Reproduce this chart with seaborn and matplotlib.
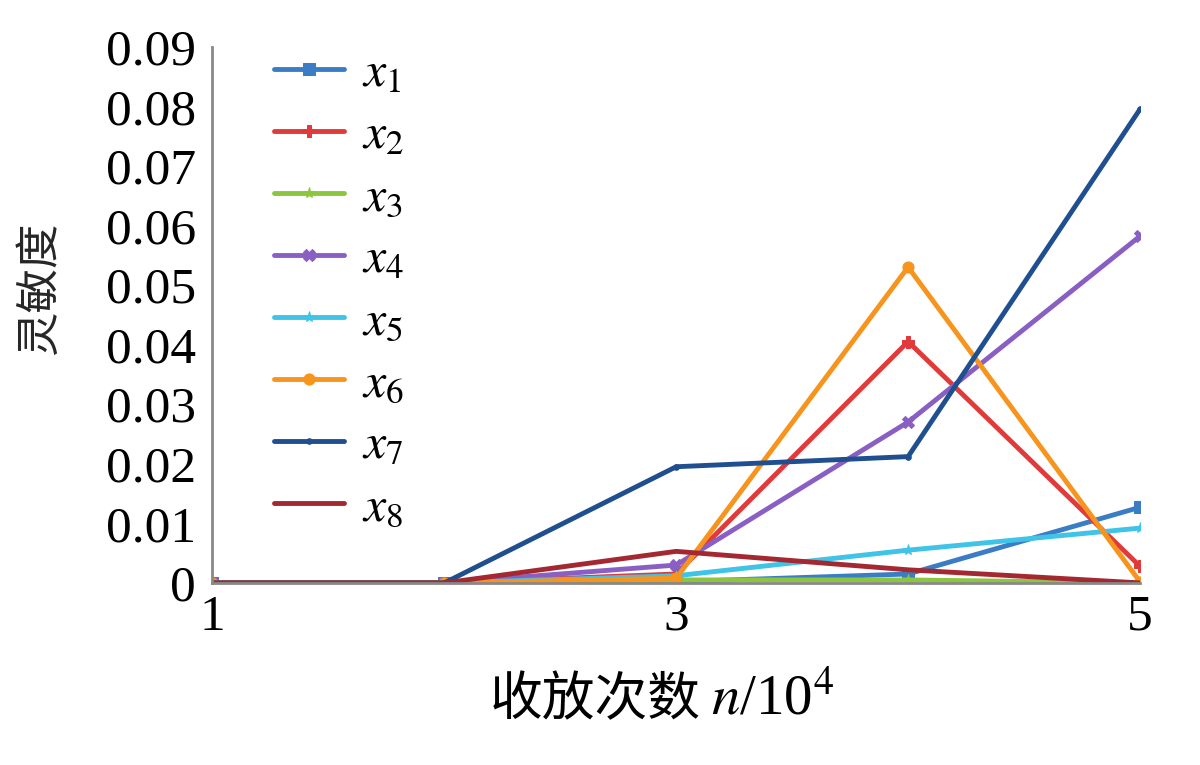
import numpy as np
import pandas as pd
import seaborn as sns
import matplotlib.pyplot as plt

sns.set_theme(style="white")
plt.rcParams['font.family'] = ['Liberation Serif', 'Noto Sans CJK SC', 'DejaVu Sans']
plt.rcParams['mathtext.fontset'] = 'stix'
plt.rcParams['text.color'] = 'black'
plt.rcParams['xtick.color'] = 'black'
plt.rcParams['ytick.color'] = 'black'

# 收放次数 (x 10^4)
cycles = [1, 2, 3, 4, 5]

x1 = [0, 0, 0.0002, 0.0015, 0.0127]
x2 = [0, 0, 0.0015, 0.0405, 0.0028]
x3 = [0, 0, 0.0005, 0.0005, 0.0]
x4 = [0, 0, 0.0030, 0.0270, 0.0582]
x5 = [0, 0, 0.0012, 0.0055, 0.0092]
x6 = [0, 0, 0.0008, 0.0530, 0.0002]
x7 = [0, 0, 0.0195, 0.0212, 0.0795]
x8 = [0, 0, 0.0053, 0.0022, 0.0]

names = ['$x_1$', '$x_2$', '$x_3$', '$x_4$', '$x_5$', '$x_6$', '$x_7$', '$x_8$']
series = [x1, x2, x3, x4, x5, x6, x7, x8]
colors = ['#3a7dc4', '#e03a3a', '#8cc63f', '#8a5fc4', '#3fc3e6', '#f7941d', '#1f4f8e', '#a32832']
markers = ['s', 'P', '*', 'X', '*', 'o', '.', None]

fig, ax = plt.subplots(figsize=(12, 7.65), dpi=100)
fig.subplots_adjust(left=0.177, right=0.95, bottom=0.238, top=0.939)

for name, vals, c, m in zip(names, series, colors, markers):
    sns.lineplot(x=cycles, y=vals, ax=ax, color=c, marker=m, markersize=8,
                 markeredgecolor=c, linewidth=3.5, label=name)

ax.set_xlim(1, 5)
ax.set_ylim(0, 0.09)
ax.set_xticks([1, 3, 5])
ax.set_yticks(np.arange(0, 0.0901, 0.01))
ax.set_yticklabels(['0'] + ['%.2f' % v for v in np.arange(0.01, 0.0901, 0.01)])
ax.tick_params(axis='both', direction='in', length=7, width=1.5, color='#777777',
               labelsize=37, pad=12, labelcolor='black')
ax.tick_params(axis='x', pad=8)

for s in ['top', 'right']:
    ax.spines[s].set_visible(False)
for s in ['left', 'bottom']:
    ax.spines[s].set_color('#888888')
    ax.spines[s].set_linewidth(2)

ax.set_ylabel('灵敏度', fontsize=32)
ax.yaxis.set_label_coords(-0.163, 0.55)

# x label: Chinese part + math part
ax.text(0.527, -0.218, '收放次数', transform=ax.transAxes, fontsize=38,
        ha='right', va='center', family='Noto Sans CJK SC')
ax.text(0.538, -0.218, '$n$/10$^4$', transform=ax.transAxes, fontsize=41,
        ha='left', va='center')

ax.legend(loc='upper left', bbox_to_anchor=(0.045, 1.03), frameon=False,
          fontsize=36, handlelength=1.4, labelspacing=0.31, handletextpad=0.35,
          borderaxespad=0)

fig.savefig('out.png', dpi=100)
